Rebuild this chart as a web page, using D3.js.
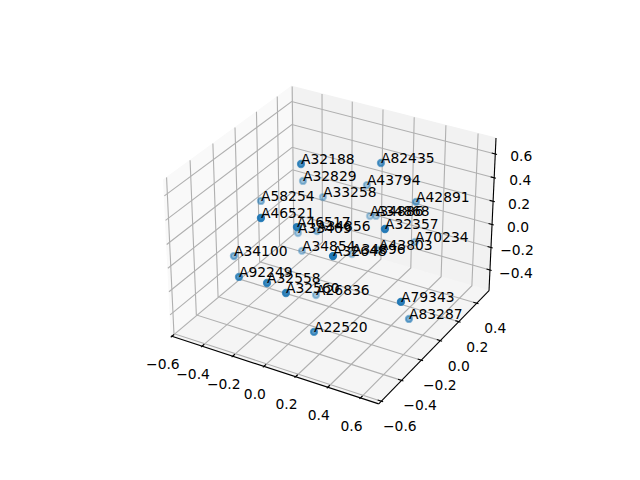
<!DOCTYPE html><html><head><meta charset="utf-8"><script src="https://cdn.jsdelivr.net/npm/d3@7"></script>
<style>html,body{margin:0;background:#fff}svg{display:block}text{font-family:"DejaVu Sans";font-size:13.89px;fill:#000}</style></head><body><script>
const names=["A32188","A32829","A58254","A46521","A46517","A33409","A34856","A33258","A34100","A34854","A32648","A34896","A82435","A43794","A42891","A34886","A34868","A32357","A70234","A43803","A92249","A32558","A32560","A26836","A22520","A79343","A83287"];
const xs=[-.137,-.305,-.454,-.194,-.014,-.312,-.165,-.240,-.478,-.267,.221,-.014,.186,.015,.331,-.032,.025,.400,.307,.167,-.306,-.107,-.004,-.106,.126,.573,.486];
const ys=[-.061,.204,.014,-.353,-.285,.161,.130,.304,-.214,.132,-.301,.252,.222,.356,.356,.467,.440,-.079,.396,.245,-.407,-.432,-.408,.029,-.340,-.192,.044];
const zs=[.632,.244,.153,.374,.317,-.182,-.085,.057,-.163,-.301,.179,-.321,.559,.217,.188,-.152,-.110,.305,-.199,-.209,-.125,-.076,-.138,-.549,-.474,-.150,-.527];
const xTicks=[-.6,-.4,-.2,0,.2,.4,.6], yTicks=[-.6,-.4,-.2,0,.2,.4], zTicks=[-.4,-.2,0,.2,.4,.6];
const xLim=[-.605,.71], yLim=[-.625,.54], zLim=[-.585,.732];

const W=640,H=480;
const svg=d3.select("body").append("svg").attr("width",W).attr("height",H);
const hx=.59525,hz=.44644;
const sx=d3.scaleLinear().domain(xLim).range([-hx,hx]), sy=d3.scaleLinear().domain(yLim).range([-hx,hx]), sz=d3.scaleLinear().domain(zLim).range([-hz,hz]);
const u=[.8660254,.5,0],v=[-.25,.4330127,.8660254],w=[.4330127,-.75,.5];
const dot=(a,b)=>a[0]*b[0]+a[1]*b[1]+a[2]*b[2];
const depth=p=>dot([sx(p[0]),sy(p[1]),sz(p[2])],w);
const sxPx=d3.scaleLinear().domain([-.095,.09]).range([143.2,512.8]), syPx=d3.scaleLinear().domain([-.095,.09]).range([427.2,57.6]);
function proj(p){const b=[sx(p[0]),sy(p[1]),sz(p[2])],k=10-dot(b,w);return [sxPx(dot(b,u)/k),syPx(dot(b,v)/k)];}
const line=d3.line().x(d=>proj(d)[0]).y(d=>proj(d)[1]);
const [x0,x1]=xLim,[y0,y1]=yLim,[z0,z1]=zLim;
const fmt=t=>(t<0?"\u2212":"")+Math.abs(t).toFixed(1);

const panes=[
 {c:"#f9f9f9",p:[[x0,y0,z0],[x0,y1,z0],[x0,y1,z1],[x0,y0,z1]]},
 {c:"#f2f2f2",p:[[x0,y1,z0],[x1,y1,z0],[x1,y1,z1],[x0,y1,z1]]},
 {c:"#f5f5f5",p:[[x0,y0,z0],[x1,y0,z0],[x1,y1,z0],[x0,y1,z0]]}];
svg.selectAll("path.pane").data(panes).join("path").attr("class","pane").attr("d",d=>line(d.p)+"Z").attr("fill",d=>d.c).attr("stroke",d=>d.c).attr("stroke-width",1);

const grids=[...xTicks.map(t=>[[t,y0,z0],[t,y1,z0],[t,y1,z1]]),...yTicks.map(t=>[[x1,t,z0],[x0,t,z0],[x0,t,z1]]),...zTicks.map(t=>[[x0,y0,t],[x0,y1,t],[x1,y1,t]])];
svg.selectAll("path.grid").data(grids).join("path").attr("class","grid").attr("d",line).attr("fill","none").attr("stroke","#b0b0b0").attr("stroke-width",1.11);

const axes=[[[x0,y0,z0],[x1,y0,z0]],[[x1,y0,z0],[x1,y1,z0]],[[x1,y1,z0],[x1,y1,z1]]];
svg.selectAll("path.axis").data(axes).join("path").attr("class","axis").attr("d",line).attr("fill","none").attr("stroke","#000").attr("stroke-width",1.11);

const dxr=(x1-x0)/12,dyr=(y1-y0)/12;
const tks=[...xTicks.map(t=>[[t,y0+dyr*.2,z0],[t,y0-dyr*.1,z0]]),...yTicks.map(t=>[[x1-dxr*.2,t,z0],[x1+dxr*.1,t,z0]]),...zTicks.map(t=>[[x1-dxr*.2,y1,t],[x1+dxr*.1,y1,t]])];
svg.selectAll("path.tick").data(tks).join("path").attr("class","tick").attr("d",line).attr("fill","none").attr("stroke","#000").attr("stroke-width",1.11);

const labs=[...xTicks.map(t=>({t,p:[t,y0,z0],o:[-9,27.7]})),...yTicks.map(t=>({t,p:[x1,t,z0],o:[18.5,25]})),...zTicks.map(t=>({t,p:[x1,y1,t],o:[26,2.5]}))];
svg.selectAll("text.tl").data(labs).join("text").attr("class","tl").attr("text-anchor","middle").attr("dy","0.36em")
 .attr("x",d=>proj(d.p)[0]+d.o[0]).attr("y",d=>proj(d.p)[1]+d.o[1]).text(d=>fmt(d.t));

const pts=names.map((n,i)=>({n,p:[xs[i],ys[i],zs[i]],d:depth([xs[i],ys[i],zs[i]])}));
const [dmin,dmax]=d3.extent(pts,d=>d.d);
const alpha=d3.scalePow().exponent(1.5).domain([dmin,dmax]).range([0,1]);
const op=d=>.3+.7*Math.pow((d.d-dmin)/(dmax-dmin),1.5);
const order=pts.slice().sort((a,b)=>a.d-b.d);
svg.selectAll("circle").data(order).join("circle").attr("cx",d=>proj(d.p)[0]).attr("cy",d=>proj(d.p)[1]).attr("r",3.1)
 .attr("fill","#1f77b4").attr("fill-opacity",op).attr("stroke","#1f77b4").attr("stroke-opacity",op).attr("stroke-width",2.08);
svg.selectAll("text.pl").data(pts).join("text").attr("class","pl").attr("x",d=>proj(d.p)[0]).attr("y",d=>proj(d.p)[1]).text(d=>d.n);
</script></body></html>
